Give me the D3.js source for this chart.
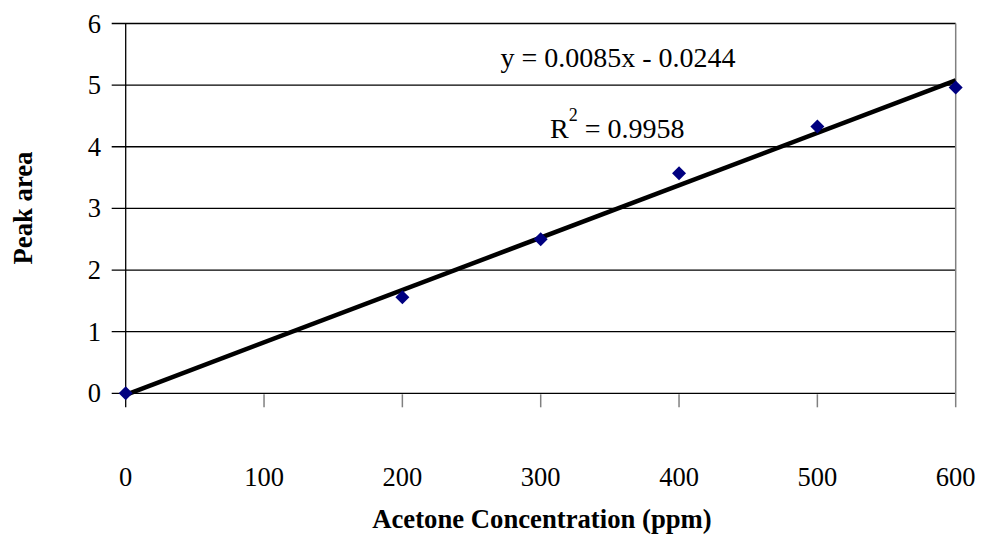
<!DOCTYPE html>
<html>
<head>
<meta charset="utf-8">
<script src="https://cdn.jsdelivr.net/npm/d3@7"></script>
<style>
  html, body { margin: 0; padding: 0; background: #fff; }
  svg { display: block; }
  text { font-family: "Liberation Serif", "Times New Roman", serif; fill: #000; }
</style>
</head>
<body>
<svg id="chart" width="981" height="540"></svg>
<script>
// ---- Data ----
const concentrations = [0, 200, 300, 400, 500, 600];
const peakAreas = [0, 1.56, 2.50, 3.57, 4.33, 4.96];
const xTicks = [0, 100, 200, 300, 400, 500, 600];
const yTicks = [0, 1, 2, 3, 4, 5, 6];
const trendSlope = 0.0085;
const trendIntercept = -0.0244;
const equationLabel = "y = 0.0085x - 0.0244";
const r2Value = "0.9958";
const xTitle = "Acetone Concentration (ppm)";
const yTitle = "Peak area";

// ---- Layout ----
const svg = d3.select("#chart");
const pLeft = 125.7, pRight = 955.7, pTop = 23.5, pBottom = 393.3;

const x = d3.scaleLinear().domain([0, 600]).range([pLeft, pRight]);
const y = d3.scaleLinear().domain([0, 6]).range([pBottom, pTop]);

// Horizontal gridlines (with outward tick to the left)
svg.append("g").selectAll("line").data(yTicks).join("line")
  .attr("x1", pLeft - 14).attr("x2", pRight)
  .attr("y1", d => y(d)).attr("y2", d => y(d))
  .attr("stroke", "#000").attr("stroke-width", 1.3);

// Y tick labels
svg.append("g").selectAll("text").data(yTicks).join("text")
  .attr("x", 101).attr("y", d => y(d) + 9)
  .attr("text-anchor", "end")
  .attr("font-size", 26.5)
  .text(d => d);

// Left axis line
svg.append("line")
  .attr("x1", pLeft).attr("x2", pLeft)
  .attr("y1", pTop).attr("y2", pBottom + 14)
  .attr("stroke", "#000").attr("stroke-width", 1.3);

// Right border (grey)
svg.append("line")
  .attr("x1", pRight).attr("x2", pRight)
  .attr("y1", pTop).attr("y2", pBottom + 14)
  .attr("stroke", "#808080").attr("stroke-width", 1.5);

// X ticks (grey, below axis)
svg.append("g").selectAll("line").data(xTicks.filter(d => d > 0 && d < 600)).join("line")
  .attr("x1", d => x(d)).attr("x2", d => x(d))
  .attr("y1", pBottom + 1).attr("y2", pBottom + 14)
  .attr("stroke", "#808080").attr("stroke-width", 1.5);

// X tick labels
svg.append("g").selectAll("text").data(xTicks).join("text")
  .attr("x", d => x(d)).attr("y", 486)
  .attr("text-anchor", "middle")
  .attr("font-size", 26.5)
  .text(d => d);

// Trendline
svg.append("line")
  .attr("x1", x(0)).attr("y1", y(trendSlope * 0 + trendIntercept))
  .attr("x2", x(600)).attr("y2", y(trendSlope * 600 + trendIntercept))
  .attr("stroke", "#000").attr("stroke-width", 4.5);

// Markers (diamonds)
const hd = 7;
svg.append("g").selectAll("path").data(concentrations.map((c, i) => [c, peakAreas[i]])).join("path")
  .attr("d", d => {
    const cx = x(d[0]), cy = y(d[1]);
    return `M${cx},${cy - hd}L${cx + hd},${cy}L${cx},${cy + hd}L${cx - hd},${cy}Z`;
  })
  .attr("fill", "#000080");

// Equation text
svg.append("text")
  .attr("x", 618).attr("y", 67)
  .attr("text-anchor", "middle")
  .attr("font-size", 28)
  .text(equationLabel);

// R² text
const r2 = svg.append("text")
  .attr("x", 550).attr("y", 138)
  .attr("font-size", 28);
r2.append("tspan").text("R");
r2.append("tspan").attr("font-size", 18).attr("dy", -17).text("2");
r2.append("tspan").attr("dy", 17).text(" = " + r2Value);

// Axis titles
svg.append("text")
  .attr("x", 542).attr("y", 528)
  .attr("text-anchor", "middle")
  .attr("font-size", 26.7).attr("font-weight", "bold")
  .text(xTitle);

svg.append("text")
  .attr("transform", "translate(32,208) rotate(-90)")
  .attr("text-anchor", "middle")
  .attr("font-size", 26.7).attr("font-weight", "bold")
  .text(yTitle);
</script>
</body>
</html>
